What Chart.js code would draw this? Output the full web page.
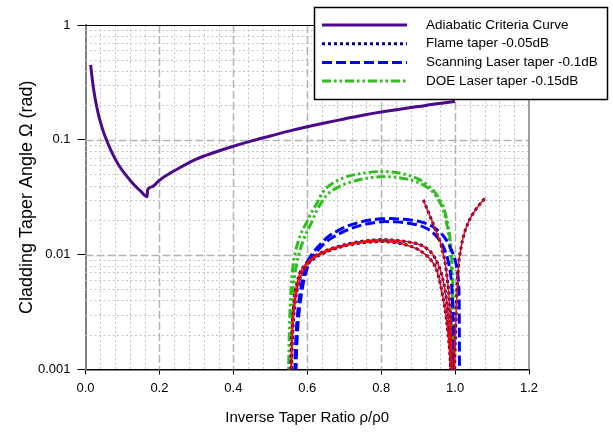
<!DOCTYPE html>
<html>
<head>
<meta charset="utf-8">
<script src="https://cdn.jsdelivr.net/npm/chart.js@4.4.1/dist/chart.umd.min.js"></script>
<style>
  html, body { margin: 0; padding: 0; background: #fff; }
  #wrap { width: 613px; height: 432px; position: relative; }
</style>
</head>
<body>
<div id="wrap"><canvas id="chart"></canvas></div>
<script>
// --- values (x = rho/rho0, y = taper angle in rad) ---
const adiabaticX = [0.014, 0.017, 0.021, 0.025, 0.030, 0.035, 0.040, 0.048, 0.060, 0.075, 0.090, 0.111, 0.130, 0.150, 0.167,
  0.168, 0.18, 0.20, 0.25, 0.30, 0.35, 0.40, 0.45, 0.50, 0.55, 0.60, 0.65, 0.70, 0.75, 0.80, 0.85, 0.90, 0.95, 1.00];
const adiabaticY = [0.45, 0.365, 0.29, 0.24, 0.197, 0.166, 0.144, 0.119, 0.094, 0.0735, 0.060, 0.0485, 0.041, 0.0355, 0.032,
  0.0367, 0.039, 0.0445, 0.056, 0.068, 0.078, 0.088, 0.098, 0.108, 0.119, 0.130, 0.141, 0.152, 0.164, 0.175, 0.185, 0.195, 0.206, 0.216];

// flame taper: two arches plus the two branches crossing near 1.0
const flame1X = [0.5555, 0.556, 0.557, 0.559, 0.562, 0.567, 0.573, 0.580, 0.592, 0.607, 0.625, 0.643, 0.665, 0.689, 0.72, 0.75,
  0.78, 0.80, 0.83, 0.86, 0.88, 0.905, 0.925, 0.94, 0.952, 0.962, 0.970, 0.977, 0.982, 0.986, 0.989];
const flame1Y = [0.0007, 0.001, 0.0015, 0.0022, 0.0032, 0.0046, 0.0058, 0.0069, 0.008, 0.009, 0.0099, 0.0106, 0.0113, 0.0119, 0.0126, 0.0131,
  0.0134, 0.0135, 0.0134, 0.0131, 0.0128, 0.0122, 0.0112, 0.0100, 0.0085, 0.0070, 0.0055, 0.0040, 0.0028, 0.0018, 0.0009];
const flame2X = [0.557, 0.558, 0.560, 0.563, 0.568, 0.574, 0.582, 0.595, 0.610, 0.630, 0.650, 0.68, 0.72, 0.76, 0.80, 0.84,
  0.87, 0.90, 0.92, 0.94, 0.950, 0.962, 0.973, 0.980, 0.987, 0.990];
const flame2Y = [0.0007, 0.0012, 0.0019, 0.0028, 0.0040, 0.0052, 0.0064, 0.0078, 0.0088, 0.0098, 0.0105, 0.0114, 0.0123, 0.0128, 0.0130, 0.0127,
  0.0121, 0.0111, 0.0100, 0.0085, 0.0074, 0.0052, 0.0033, 0.0022, 0.0012, 0.0007];
const flameFallX = [0.914, 0.922, 0.930, 0.938, 0.945, 0.952, 0.960, 0.967, 0.973, 0.978, 0.982, 0.986, 0.989, 0.992, 0.994];
const flameFallY = [0.030, 0.026, 0.0225, 0.0195, 0.0170, 0.0148, 0.0128, 0.0105, 0.0085, 0.0065, 0.0050, 0.0035, 0.0024, 0.0013, 0.0007];
const flameRiseX = [0.998, 0.999, 1.001, 1.003, 1.006, 1.010, 1.016, 1.024, 1.034, 1.045, 1.057, 1.069, 1.081];
const flameRiseY = [0.0007, 0.0012, 0.002, 0.0033, 0.0055, 0.0085, 0.0115, 0.015, 0.0185, 0.0218, 0.025, 0.028, 0.031];

// scanning laser taper: two arches
const scan1X = [0.566, 0.567, 0.569, 0.572, 0.576, 0.581, 0.587, 0.594, 0.605, 0.617, 0.630, 0.644, 0.660, 0.680, 0.71, 0.74, 0.77,
  0.80, 0.825, 0.85, 0.88, 0.905, 0.93, 0.950, 0.968, 0.980, 0.990, 1.000, 1.005, 1.008, 1.010, 1.011, 1.0115, 1.012];
const scan1Y = [0.0007, 0.0012, 0.0018, 0.0026, 0.0036, 0.0047, 0.0062, 0.0079, 0.0092, 0.0105, 0.0118, 0.0132, 0.0146, 0.0160, 0.0178, 0.0191, 0.0200,
  0.0205, 0.0206, 0.0204, 0.0200, 0.0194, 0.0182, 0.0166, 0.0146, 0.0128, 0.0110, 0.0090, 0.0076, 0.0064, 0.0052, 0.0040, 0.0020, 0.0007];
const scan2X = [0.569, 0.570, 0.572, 0.575, 0.579, 0.584, 0.590, 0.598, 0.608, 0.620, 0.634, 0.650, 0.668, 0.69, 0.72, 0.75, 0.78,
  0.81, 0.84, 0.87, 0.90, 0.925, 0.945, 0.962, 0.975, 0.984, 0.990, 0.993, 0.995, 0.996];
const scan2Y = [0.0007, 0.0011, 0.0017, 0.0025, 0.0034, 0.0045, 0.0058, 0.0073, 0.0088, 0.0101, 0.0114, 0.0128, 0.0141, 0.0154, 0.0170, 0.0182, 0.0190,
  0.0194, 0.0193, 0.0189, 0.0181, 0.0168, 0.0150, 0.0128, 0.0104, 0.0080, 0.0058, 0.0040, 0.0022, 0.0007];

// DOE laser taper: two arches
const doe1X = [0.549, 0.550, 0.551, 0.553, 0.555, 0.558, 0.562, 0.567, 0.574, 0.581, 0.590, 0.599, 0.612, 0.626, 0.642, 0.66, 0.69,
  0.72, 0.75, 0.78, 0.80, 0.83, 0.86, 0.885, 0.905, 0.925, 0.942, 0.956, 0.968, 0.978, 0.985, 0.990, 0.993, 0.995, 0.996];
const doe1Y = [0.0007, 0.0012, 0.0018, 0.0030, 0.0043, 0.0062, 0.0082, 0.0103, 0.0125, 0.0147, 0.0170, 0.0192, 0.0235, 0.028, 0.035, 0.040, 0.0455,
  0.049, 0.0512, 0.0526, 0.0530, 0.0525, 0.0505, 0.0478, 0.0448, 0.0405, 0.0360, 0.0310, 0.0260, 0.0200, 0.0150, 0.0105, 0.0065, 0.0030, 0.0007];
const doe2X = [0.552, 0.553, 0.555, 0.558, 0.561, 0.565, 0.571, 0.580, 0.590, 0.600, 0.612, 0.625, 0.640, 0.653, 0.67, 0.70, 0.73,
  0.76, 0.80, 0.84, 0.87, 0.90, 0.92, 0.94, 0.955, 0.967, 0.976, 0.983, 0.988, 0.991, 0.993, 0.994];
const doe2Y = [0.0007, 0.0012, 0.0020, 0.0032, 0.0046, 0.0062, 0.0082, 0.0108, 0.0135, 0.0160, 0.0192, 0.024, 0.029, 0.033, 0.0365, 0.041, 0.0440,
  0.0462, 0.0478, 0.0472, 0.0455, 0.0425, 0.0395, 0.0350, 0.0300, 0.0250, 0.0195, 0.0145, 0.0100, 0.0065, 0.0035, 0.0007];

// --- axes ---
const xMajorTicks = [0, 0.2, 0.4, 0.6, 0.8, 1.0, 1.2];
const yMajorTicks = [0.001, 0.01, 0.1, 1];
const yTickLabels = ['0.001', '0.01', '0.1', '1'];

const legendNames = ['Adiabatic Criteria Curve', 'Flame taper -0.05dB', 'Scanning Laser taper -0.1dB', 'DOE Laser taper -0.15dB'];

const COLORS = {
  adiabatic: '#4B0A8C',
  flame: '#000080',
  flameLine: '#FF0000',
  scan: '#0000FF',
  doe: '#2EBE1E',
};

const FONT = '"Liberation Sans", Arial, sans-serif';

function pts(xs, ys) {
  return xs.map((x, i) => ({ x: x, y: ys[i] }));
}

function line(label, xs, ys, color, width, dash) {
  return {
    label: label,
    data: pts(xs, ys),
    borderColor: color,
    backgroundColor: color,
    borderWidth: width,
    borderDash: dash,
    showLine: true,
    pointRadius: 0,
    fill: false,
    cubicInterpolationMode: 'monotone',
  };
}

const flameDash = [3, 3];
const scanDash = [10, 4];
const doeDash = [9, 3, 2.5, 3, 2.5, 3];

// first dataset is drawn on top: red fit lines over the navy dots
const datasets = [
  line('flame fit 1', flame1X, flame1Y, COLORS.flameLine, 1.5, []),
  line('flame fit 2', flame2X, flame2Y, COLORS.flameLine, 1.5, []),
  line('flame fit fall', flameFallX, flameFallY, COLORS.flameLine, 1.5, []),
  line('flame fit rise', flameRiseX, flameRiseY, COLORS.flameLine, 1.5, []),
  line(legendNames[1], flame1X, flame1Y, COLORS.flame, 3, flameDash),
  line('flame 2', flame2X, flame2Y, COLORS.flame, 3, flameDash),
  line('flame fall', flameFallX, flameFallY, COLORS.flame, 3, flameDash),
  line('flame rise', flameRiseX, flameRiseY, COLORS.flame, 3, flameDash),
  line(legendNames[2], scan1X, scan1Y, COLORS.scan, 3, scanDash),
  line('scan 2', scan2X, scan2Y, COLORS.scan, 3, scanDash),
  line(legendNames[3], doe1X, doe1Y, COLORS.doe, 3, doeDash),
  line('doe 2', doe2X, doe2Y, COLORS.doe, 3, doeDash),
  line(legendNames[0], adiabaticX, adiabaticY, COLORS.adiabatic, 3, []),
];

// dotted minor grid + dashed major grid + top/right frame, like the Excel plot
const gridPlugin = {
  id: 'excelGrid',
  beforeDatasetsDraw(chart) {
    const { ctx, chartArea: a, scales } = chart;
    const x = scales.x, y = scales.y;
    const vline = (v) => {
      const px = Math.round(x.getPixelForValue(v)) + 0.5;
      ctx.beginPath(); ctx.moveTo(px, a.top); ctx.lineTo(px, a.bottom); ctx.stroke();
    };
    const hline = (v) => {
      const py = Math.round(y.getPixelForValue(v)) + 0.5;
      ctx.beginPath(); ctx.moveTo(a.left, py); ctx.lineTo(a.right, py); ctx.stroke();
    };
    ctx.save();
    ctx.lineWidth = 1;
    ctx.strokeStyle = '#c4c4c4';
    ctx.setLineDash([2, 2.5]);
    for (let i = 1; i < 30; i++) {
      if (i % 5 !== 0) vline(i * 0.04);
    }
    for (let k = 0; k < yMajorTicks.length - 1; k++) {
      for (let m = 2; m <= 9; m++) hline(yMajorTicks[k] * m);
    }
    ctx.strokeStyle = '#b4b4b4';
    ctx.lineWidth = 1.5;
    ctx.setLineDash([8, 3]);
    xMajorTicks.slice(1, -1).forEach(vline);
    yMajorTicks.slice(1, -1).forEach(hline);
    ctx.setLineDash([]);
    ctx.lineWidth = 1;
    ctx.strokeStyle = '#000';
    ctx.beginPath(); ctx.moveTo(a.left, a.top + 0.5); ctx.lineTo(a.right, a.top + 0.5); ctx.stroke();
    ctx.strokeStyle = '#808080';
    ctx.lineWidth = 1.5;
    ctx.beginPath(); ctx.moveTo(a.right, a.top); ctx.lineTo(a.right, a.bottom); ctx.stroke();
    ctx.restore();
  },
};

// boxed legend sitting over the top-right corner of the plot
const legendPlugin = {
  id: 'boxLegend',
  afterDraw(chart) {
    const ctx = chart.ctx;
    ctx.save();
    ctx.fillStyle = '#fff';
    ctx.fillRect(314, 7, 294, 93);
    ctx.strokeStyle = '#000';
    ctx.lineWidth = 1.5;
    ctx.strokeRect(314.5, 7.5, 293, 92);
    ctx.font = '13.5px ' + FONT;
    ctx.textBaseline = 'middle';
    legendNames.forEach((name, i) => {
      const ds = chart.data.datasets.find((d) => d.label === name);
      const yy = 25 + i * 18.7;
      ctx.strokeStyle = ds.borderColor;
      ctx.lineWidth = Math.min(ds.borderWidth, 3);
      ctx.setLineDash(ds.borderDash || []);
      ctx.beginPath(); ctx.moveTo(322, yy); ctx.lineTo(407, yy); ctx.stroke();
      ctx.setLineDash([]);
      ctx.fillStyle = '#000';
      ctx.fillText(name, 426, yy);
    });
    ctx.restore();
  },
};

Chart.defaults.font.family = FONT;
Chart.defaults.color = '#000';

new Chart(document.getElementById('chart'), {
  type: 'scatter',
  data: { datasets: datasets },
  plugins: [gridPlugin, legendPlugin],
  options: {
    responsive: true,
    maintainAspectRatio: false,
    animation: false,
    events: [],
    layout: { padding: { left: 0, right: 84, top: 25, bottom: 0 } },
    plugins: {
      legend: { display: false },
      tooltip: { enabled: false },
    },
    scales: {
      x: {
        type: 'linear',
        min: 0,
        max: 1.2,
        afterBuildTicks(scale) {
          scale.ticks = xMajorTicks.map((v) => ({ value: v }));
        },
        afterFit(scale) { scale.height = 62.5; },
        ticks: {
          font: { size: 13 },
          padding: 6,
          maxRotation: 0,
          callback: (v) => Number(v).toFixed(1),
        },
        grid: { drawOnChartArea: false, drawTicks: true, tickLength: 5, tickColor: '#000', tickWidth: 1 },
        border: { color: '#000', width: 1.5 },
        title: {
          display: true,
          text: 'Inverse Taper Ratio ρ/ρ0',
          font: { size: 15 },
          padding: { top: 0, bottom: 5 },
        },
      },
      y: {
        type: 'logarithmic',
        min: 0.001,
        max: 1,
        afterBuildTicks(scale) {
          scale.ticks = yMajorTicks.map((v) => ({ value: v, major: true }));
        },
        afterFit(scale) { scale.width = 85.5; },
        ticks: {
          font: { size: 13 },
          padding: 7,
          callback: (v) => {
            const i = yMajorTicks.findIndex((t) => Math.abs(t - v) / t < 1e-6);
            return i >= 0 ? yTickLabels[i] : null;
          },
        },
        grid: { drawOnChartArea: false, drawTicks: true, tickLength: 8, tickColor: '#000', tickWidth: 1 },
        border: { color: '#808080', width: 2 },
        title: {
          display: true,
          text: 'Cladding Taper Angle Ω (rad)',
          font: { size: 18 },
          padding: { top: 16, bottom: 0 },
        },
      },
    },
  },
});
</script>
</body>
</html>
